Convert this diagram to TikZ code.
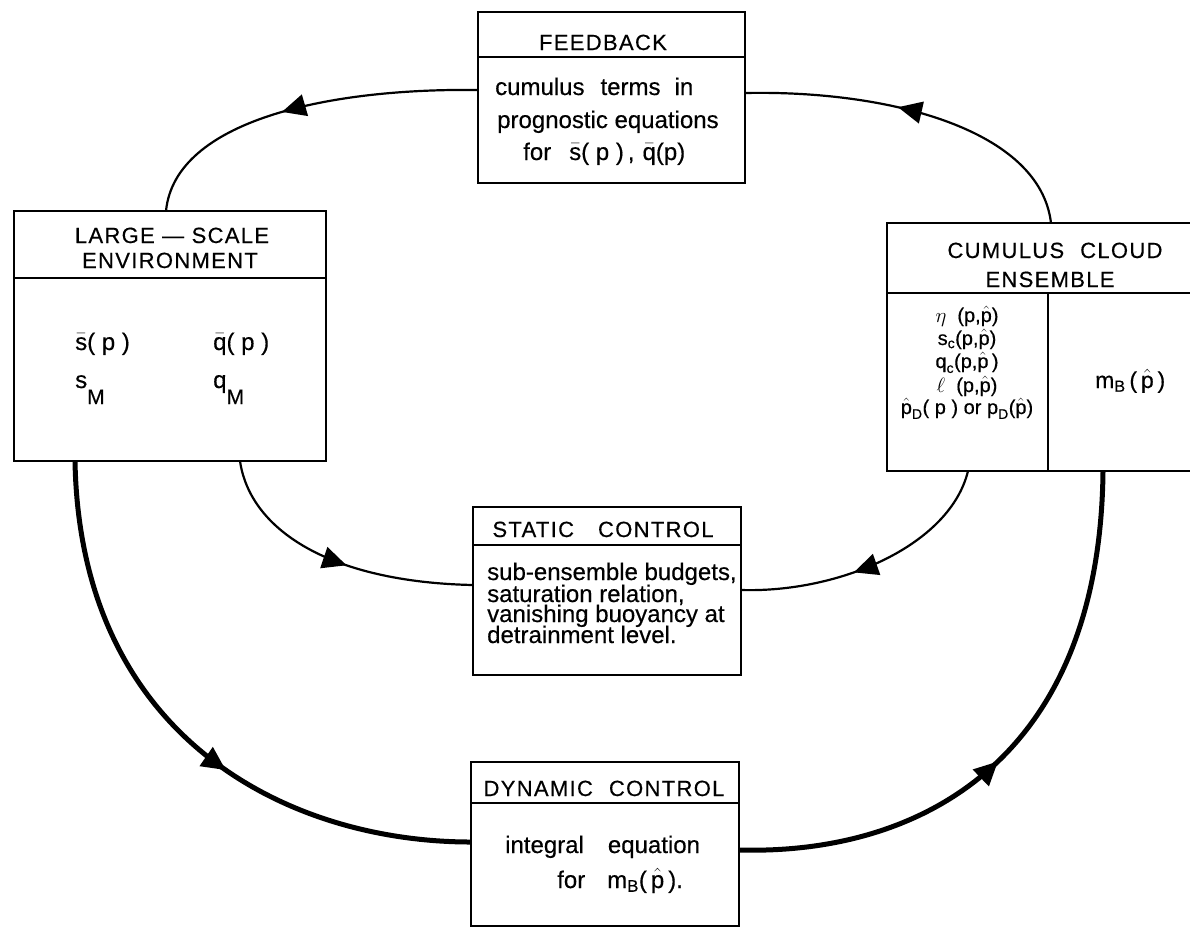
\documentclass[tikz,border=0pt]{standalone}
\usepackage{amsmath}
\usepackage{fontspec}
\setmainfont{Liberation Sans}[FakeBold=0.4]
\usetikzlibrary{arrows.meta,decorations.markings,calc}
\newcommand{\tx}[1]{\text{#1}}
\newcommand{\phat}{\ensuremath{\hat{\text{p}}}}
\begin{document}
\begin{tikzpicture}[x=1pt,y=-1pt,
  box/.style={draw,line width=1.7pt,inner sep=0pt,outer sep=0pt},
  rule/.style={line width=1.5pt},
  lbl/.style={inner sep=0pt,anchor=base west,font=\fontsize{24}{26}\selectfont},
  ttl/.style={inner sep=0pt,anchor=base,font=\fontsize{22}{24}\selectfont\addfontfeature{LetterSpace=6}},
  sml/.style={inner sep=0pt,anchor=base,font=\fontsize{20}{21}\selectfont},
  flow/.style={line width=2.2pt},
  heavy/.style={line width=5pt},
  arrowat/.style={postaction={decorate},decoration={markings,mark=at position #1 with {\arrow{Triangle[length=24pt,width=22pt]}}}}
]
\useasboundingbox (0,0) rectangle (1190,930);
\clip (0,0) rectangle (1190,930);

% boxes
\node[box,minimum width=267pt,minimum height=171pt] (fb) at (611.5,97.5) {};
\node[box,minimum width=312pt,minimum height=250pt] (ls) at (170,336) {};
\node[box,minimum width=313pt,minimum height=248pt] (ce) at (1043.5,347) {};
\node[box,minimum width=268pt,minimum height=168pt] (sc) at (607,591) {};
\node[box,minimum width=268pt,minimum height=164pt] (dc) at (605,844) {};

% dividers
\draw[rule] (fb.west |- 0,57) -- (fb.east |- 0,57);
\draw[rule] (ls.west |- 0,278) -- (ls.east |- 0,278);
\draw[rule] (ce.west |- 0,293) -- (ce.east |- 0,293);
\draw[rule] (ce.south -| 1048,0) -- (1048,293);
\draw[rule] (sc.west |- 0,545) -- (sc.east |- 0,545);
\draw[rule] (dc.west |- 0,803) -- (dc.east |- 0,803);

% titles
\node[ttl] (fbt) at (603,50) {FEEDBACK};
\node[ttl] (lst1) at (172,243) {LARGE — SCALE};
\node[ttl] (lst2) at (170,268) {ENVIRONMENT};
\node[ttl] (cet1) at (1055,258) {CUMULUS\hspace{16pt}CLOUD};
\node[ttl] (cet2) at (1050,287) {ENSEMBLE};
\node[ttl] (sct) at (603,537) {STATIC\hspace{24pt}CONTROL};
\node[ttl] (dct) at (604,796) {DYNAMIC\hspace{16pt}CONTROL};

% feedback body
\node[lbl] (fb1) at (495,95) {cumulus\hspace{16pt}terms\hspace{14pt}in};
\node[lbl] (fb2) at (497,128) {prognostic equations};
\node[lbl] (fb3) at (523,160) {for\hspace{18pt}\ensuremath{\bar{\text{s}}}( p )\,,\hspace{8pt}\ensuremath{\bar{\text{q}}}(p)};

% large-scale body
\node[lbl] (ls1) at (75,350) {\ensuremath{\bar{\text{s}}}( p )};
\node[lbl] (ls2) at (213,350) {\ensuremath{\bar{\text{q}}}( p )};
\node[lbl] (ls3) at (75,388) {s\raisebox{-16pt}{\fontsize{21}{21}\selectfont M}};
\node[lbl] (ls4) at (213,388) {q\raisebox{-16pt}{\fontsize{21}{21}\selectfont M}};

% cumulus body
\node[sml] (ce1) at (967,322) {$\eta$\ \ (p,\phat)};
\node[sml] (ce2) at (967,345) {$\tx{s}_{\tx{c}}$(p,\phat)};
\node[sml] (ce3) at (967,368) {$\tx{q}_{\tx{c}}$(p,\phat\,)};
\node[sml] (ce4) at (967,392) {$\ell$\ \ (p,\phat)};
\node[sml] (ce5) at (967,414) {$\hat{\tx{p}}_{\tx{D}}$( p ) or $\tx{p}_{\tx{D}}$(\phat)};
\node[lbl,font=\fontsize{23}{25}\selectfont] (ce6) at (1095,388) {$\tx{m}_{\tx{B}}$\,(\,\phat\,)};

% static control body
\node[lbl] (sc1) at (487,580) {sub-ensemble budgets,};
\node[lbl] (sc2) at (487,602) {saturation relation,};
\node[lbl] (sc3) at (487,622) {vanishing buoyancy at};
\node[lbl] (sc4) at (487,643) {detrainment level.};

% dynamic control body
\node[lbl] (dc1) at (505,853) {integral\hspace{24pt}equation};
\node[lbl] (dc2) at (557,888) {for\hspace{22pt}$\tx{m}_{\tx{B}}$(\,\phat\,).};

% connectors
\draw[flow,arrowat=0.55] (fb.west |- 0,90) .. controls (330,88) and (175,120) .. (ls.north -| 166,0);
\draw[flow,arrowat=0.57] (ce.north -| 1051,0) .. controls (1040,130) and (890,90) .. (fb.east |- 0,93);
\draw[flow,arrowat=0.55] (ls.south -| 240,0) .. controls (250,530) and (330,582) .. (sc.west |- 0,585);
\draw[flow,arrowat=0.58] (ce.south -| 968,0) .. controls (950,545) and (840,593) .. (sc.east |- 0,590);
\draw[heavy,arrowat=0.58] (ls.south -| 75,0) .. controls (80,740) and (290,842) .. (dc.west |- 0,842);
\draw[heavy,arrowat=0.47] (dc.east |- 0,850) .. controls (920,855) and (1100,760) .. (ce.south -| 1103,0);
\end{tikzpicture}
\end{document}
